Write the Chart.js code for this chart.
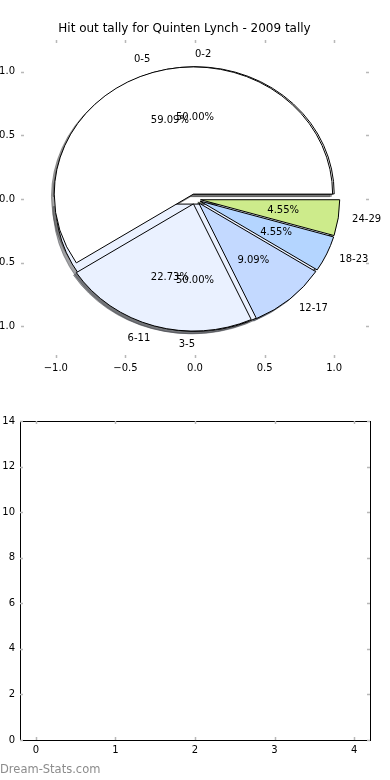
<!DOCTYPE html>
<html>
<head>
<meta charset="utf-8">
<script src="https://cdn.jsdelivr.net/npm/chart.js@4.4.1/dist/chart.umd.min.js"></script>
<style>
  html, body { margin: 0; padding: 0; background: #fff; }
  #page { position: relative; width: 390px; height: 780px; overflow: hidden; }
  .box { position: absolute; left: 0; width: 390px; height: 390px; }
  #top { top: 0; }
  #bottom { top: 390px; }
  #mark { position: absolute; left: 0; top: 762px; font: 11.5px "DejaVu Sans", sans-serif; color: #8c8c8c; }
</style>
</head>
<body>
<div id="page">
  <div class="box" id="top"><canvas id="pieChart"></canvas></div>
  <div class="box" id="bottom"><canvas id="emptyChart"></canvas></div>
  <div id="mark">Dream-Stats.com</div>
</div>
<script>
// --- datos ---
const TITLE = 'Hit out tally for Quinten Lynch - 2009 tally';

// primer pastel (dibujado debajo)
const pieOneLabels = ['0-2', '3-5'];
const pieOneValues = [1, 1];
const pieOneColors = ['#ffffff', '#eaf1ff'];

// segundo pastel (dibujado encima)
const pieTwoLabels = ['0-5', '6-11', '12-17', '18-23', '24-29'];
const pieTwoValues = [13, 5, 2, 1, 1];
const pieTwoColors = ['#ffffff', '#eaf1ff', '#c3d9ff', '#b4d5ff', '#cdeb8b'];

const EXPLODE = 0.04;

// ticks de los ejes del pastel
const pieTicks = [-1, -0.5, 0, 0.5, 1];

// ejes vacios de abajo
const bottomXTicks = [0, 1, 2, 3, 4];
const bottomYTicks = [0, 2, 4, 6, 8, 10, 12, 14];

const FONT = 'DejaVu Sans';
const TICK_COLOR = '#b8b8b8';

function fmtTick(v) {
    const s = Math.abs(v).toFixed(1);
    return v < 0 ? '\u2212' + s : s;
}

function hexToRgb(h) {
    const n = parseInt(h.slice(1), 16);
    return [(n >> 16) & 255, (n >> 8) & 255, n & 255];
}

// cuñas a partir de los valores
function buildWedges(values, labels, colors) {
    const total = values.reduce((a, b) => a + b, 0);
    let acc = 0;
    return values.map((v, i) => {
        const f1 = acc;
        acc += v / total;
        const a1 = 2 * Math.PI * f1;
        const a2 = 2 * Math.PI * acc;
        const am = 2 * Math.PI * 0.5 * (f1 + acc);
        return {
            a1, a2, am,
            cx: EXPLODE * Math.cos(am),
            cy: EXPLODE * Math.sin(am),
            frac: v / total,
            label: labels[i],
            color: colors[i]
        };
    });
}

// ticks hacia dentro en los cuatro lados
const innerTicks = {
    id: 'innerTicks',
    afterDraw(chart) {
        const { ctx, chartArea: a, scales } = chart;
        ctx.save();
        ctx.strokeStyle = TICK_COLOR;
        ctx.lineWidth = 1.5;
        const len = 3;
        ctx.beginPath();
        scales.x.ticks.forEach(t => {
            const x = Math.round(scales.x.getPixelForValue(t.value)) + 0.5;
            ctx.moveTo(x, a.top); ctx.lineTo(x, a.top + len);
            ctx.moveTo(x, a.bottom); ctx.lineTo(x, a.bottom - len);
        });
        scales.y.ticks.forEach(t => {
            const y = Math.round(scales.y.getPixelForValue(t.value)) + 0.5;
            ctx.moveTo(a.left, y); ctx.lineTo(a.left + len, y);
            ctx.moveTo(a.right, y); ctx.lineTo(a.right - len, y);
        });
        ctx.stroke();
        ctx.restore();
    }
};

// pasteles dibujados con las escalas del grafico
const piePlugin = {
    id: 'pies',
    afterDatasetsDraw(chart) {
        const ctx = chart.ctx;
        const xs = chart.scales.x, ys = chart.scales.y;
        const px = v => xs.getPixelForValue(v);
        const py = v => ys.getPixelForValue(v);
        const rx = px(1) - px(0);
        const ry = py(0) - py(1);

        const pies = [
            buildWedges(pieOneValues, pieOneLabels, pieOneColors),
            buildWedges(pieTwoValues, pieTwoLabels, pieTwoColors)
        ];

        function wedgePath(w, dx, dy) {
            const cx = px(w.cx + dx), cy = py(w.cy + dy);
            ctx.beginPath();
            ctx.moveTo(cx, cy);
            ctx.ellipse(cx, cy, rx, ry, 0, -w.a1, -w.a2, true);
            ctx.closePath();
        }

        ctx.save();
        ctx.lineJoin = 'miter';

        // sombras primero (zorder menor)
        pies.forEach(p => p.forEach(w => {
            const [r, g, b] = hexToRgb(w.color);
            const c = `rgba(${Math.round(r * 0.3)},${Math.round(g * 0.3)},${Math.round(b * 0.3)},0.5)`;
            wedgePath(w, -0.02, -0.02);
            ctx.fillStyle = c;
            ctx.fill();
            ctx.strokeStyle = c;
            ctx.lineWidth = 1;
            ctx.stroke();
        }));

        // cuñas
        pies.forEach(p => p.forEach(w => {
            wedgePath(w, 0, 0);
            ctx.fillStyle = w.color;
            ctx.fill();
            ctx.strokeStyle = '#000';
            ctx.lineWidth = 1;
            ctx.stroke();
        }));

        // textos
        ctx.fillStyle = '#000';
        ctx.font = `10px "${FONT}"`;
        ctx.textBaseline = 'middle';
        pies.forEach(p => p.forEach(w => {
            const lx = w.cx + 1.1 * Math.cos(w.am);
            const ly = w.cy + 1.1 * Math.sin(w.am);
            ctx.textAlign = lx > 0 ? 'left' : 'right';
            ctx.fillText(w.label, px(lx), py(ly));
            const tx = w.cx + 0.6 * Math.cos(w.am);
            const ty = w.cy + 0.6 * Math.sin(w.am);
            ctx.textAlign = 'center';
            ctx.fillText((w.frac * 100).toFixed(2) + '%', px(tx), py(ty));
        }));
        ctx.restore();
    }
};

// marco negro de los ejes de abajo
const framePlugin = {
    id: 'frame',
    afterDraw(chart) {
        const { ctx, chartArea: a } = chart;
        ctx.save();
        ctx.strokeStyle = '#000';
        ctx.lineWidth = 1;
        ctx.strokeRect(Math.round(a.left) + 0.5, Math.round(a.top) + 0.5,
            Math.round(a.right - a.left), Math.round(a.bottom - a.top));
        ctx.restore();
    }
};

const tickFont = { family: FONT, size: 10 };

const pieChart = new Chart(document.getElementById('pieChart'), {
    type: 'scatter',
    data: { datasets: [] },
    options: {
        responsive: true,
        maintainAspectRatio: false,
        animation: false,
        events: [],
        layout: { padding: { left: 0, right: 21, top: 0, bottom: 0 } },
        plugins: {
            legend: { display: false },
            tooltip: { enabled: false },
            title: {
                display: true,
                text: TITLE,
                color: '#000',
                font: { family: FONT, size: 12, weight: 'normal' },
                padding: { top: 22, bottom: 3.6 }
            }
        },
        scales: {
            x: {
                type: 'linear',
                min: -1.25, max: 1.25,
                grid: { display: false, drawTicks: false },
                border: { display: false },
                afterBuildTicks: s => { s.ticks = pieTicks.map(v => ({ value: v })); },
                ticks: {
                    maxRotation: 0,
                    color: '#000', font: tickFont, padding: 4,
                    callback: v => fmtTick(v)
                },
                afterFit: s => { s.height = 32; }
            },
            y: {
                type: 'linear',
                min: -1.25, max: 1.25,
                grid: { display: false, drawTicks: false },
                border: { display: false },
                afterBuildTicks: s => { s.ticks = pieTicks.map(v => ({ value: v })); },
                ticks: {
                    color: '#000', font: tickFont, padding: 6,
                    callback: v => fmtTick(v)
                },
                afterFit: s => { s.width = 21; }
            }
        }
    },
    plugins: [piePlugin, innerTicks]
});

const emptyChart = new Chart(document.getElementById('emptyChart'), {
    type: 'scatter',
    data: { datasets: [{ data: [] }] },
    options: {
        responsive: true,
        maintainAspectRatio: false,
        animation: false,
        events: [],
        layout: { padding: { left: 0, right: 20, top: 31, bottom: 0 } },
        plugins: { legend: { display: false }, tooltip: { enabled: false } },
        scales: {
            x: {
                type: 'linear',
                min: -0.2, max: 4.2,
                grid: { display: false, drawTicks: false },
                border: { display: false },
                afterBuildTicks: s => { s.ticks = bottomXTicks.map(v => ({ value: v })); },
                ticks: { color: '#000', font: tickFont, padding: 4, maxRotation: 0, callback: v => String(v) },
                afterFit: s => { s.height = 40; }
            },
            y: {
                type: 'linear',
                min: 0, max: 14,
                grid: { display: false, drawTicks: false },
                border: { display: false },
                afterBuildTicks: s => { s.ticks = bottomYTicks.map(v => ({ value: v })); },
                ticks: { color: '#000', font: tickFont, padding: 5, callback: v => String(v) },
                afterFit: s => { s.width = 20; }
            }
        }
    },
    plugins: [framePlugin, innerTicks]
});
</script>
</body>
</html>
